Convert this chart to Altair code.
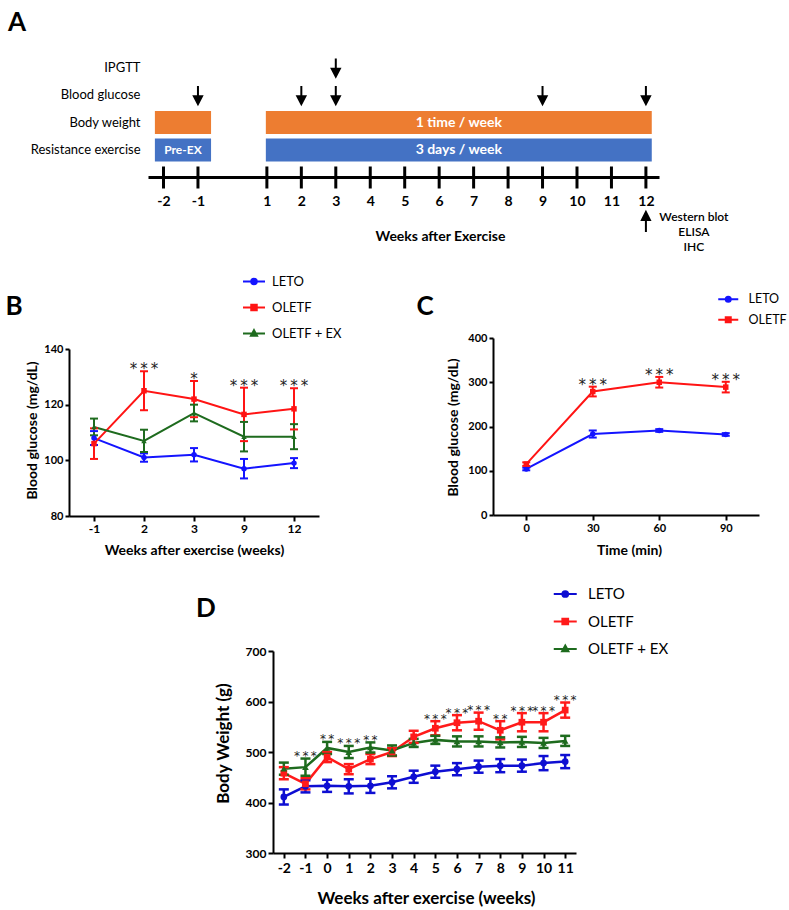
import altair as alt
import pandas as pd

FONT = "Lato"
STAR_FONT = "DejaVu Sans"

# ---------------- Panel A (study design) ----------------
A_rows = ["IPGTT", "Blood glucose", "Body weight", "Resistance exercise", "timeline"]
A_row_labels = ["IPGTT", "Blood glucose", "Body weight", "Resistance exercise"]
A_weeks = [-2, -1, 1, 2, 3, 4, 5, 6, 7, 8, 9, 10, 11, 12]
A_bar_row = ["Body weight", "Body weight", "Resistance exercise", "Resistance exercise"]
A_bar_start = [-2.25, 0.97, -2.25, 0.97]
A_bar_end = [-0.62, 12.17, -0.62, 12.17]
A_bar_text = ["", "1 time  / week", "Pre-EX", "3 days / week"]
A_arrow_row = ["IPGTT", "Blood glucose", "Blood glucose", "Blood glucose", "Blood glucose", "Blood glucose"]
A_arrow_week = [3, -1, 2, 3, 9, 12]
A_sample_week = [12]
A_sample_text = ["Western blot\nELISA\nIHC"]

# ---------------- Panel B (blood glucose) ----------------
B_groups = ["LETO", "OLETF", "OLETF + EX"]
B_weeks = [-1, 2, 3, 9, 12]
B_leto = [108, 101, 102, 97, 99]
B_leto_sem = [2.5, 1.5, 2.4, 3.5, 1.8]
B_oletf = [106, 125, 122, 116.5, 118.5]
B_oletf_sem = [5.5, 7, 6.5, 9.6, 7.4]
B_ex = [112, 107, 117, 108.5, 108.5]
B_ex_sem = [3, 4, 3, 5.3, 4.5]
B_stars = ["", "***", "*", "***", "***"]

# ---------------- Panel C (IPGTT) ----------------
C_groups = ["LETO", "OLETF"]
C_time = [0, 30, 60, 90]
C_leto = [104, 183, 191, 182]
C_leto_sem = [3, 8, 3, 3]
C_oletf = [115, 279, 300, 289]
C_oletf_sem = [4, 11, 12, 12]
C_stars = ["", "***", "***", "***"]

# ---------------- Panel D (body weight) ----------------
D_groups = ["LETO", "OLETF", "OLETF + EX"]
D_weeks = [-2, -1, 0, 1, 2, 3, 4, 5, 6, 7, 8, 9, 10, 11]
D_leto = [411, 432, 433, 432, 433, 440, 451, 461, 466, 471, 473, 473, 478, 481]
D_leto_sem = [15, 12, 12, 14, 14, 12, 12, 12, 12, 12, 13, 12, 14, 13]
D_oletf = [458, 437, 490, 466, 486, 500, 530, 547, 558, 561, 543, 559, 559, 583]
D_oletf_sem = [12, 11, 10, 10, 10, 8, 12, 14, 15, 17, 18, 18, 18, 15]
D_ex = [467, 470, 508, 500, 509, 503, 518, 524, 521, 521, 519, 520, 518, 522]
D_ex_sem = [12, 17, 12, 12, 10, 10, 8, 8, 10, 10, 10, 10, 10, 10]
D_stars = ["", "***", "**", "***", "**", "", "", "***", "***", "***", "**", "***", "***", "***"]

# legend symbols: line segment + marker (custom paths)
SYM_CIRCLE = "M-2,0H2M0.5,0A0.5,0.5,0,1,1,-0.5,0A0.5,0.5,0,1,1,0.5,0Z"
SYM_SQUARE = "M-2,0H2M-0.5,-0.5H0.5V0.5H-0.5Z"
SYM_TRI = "M-2,0H2M0,-0.6L0.55,0.4H-0.55Z"
ARROW_DOWN = "M0,-1V0.35M-0.45,0.15L0,1L0.45,0.15Z"
ARROW_UP = "M0,4.1V5.45M-0.4,4.25L0,3.45L0.4,4.25Z"
HYPHEN_LABEL = "'' + datum.value"


def long_df(xs, groups, means, sems):
    recs = []
    for g, ms, ss in zip(groups, means, sems):
        for xv, m, s in zip(xs, ms, ss):
            recs.append({"x": xv, "Group": g, "mean": m, "lo": m - s, "hi": m + s})
    return pd.DataFrame(recs)


def star_df(xs, stars, df):
    top = df.groupby("x")["hi"].max()
    return pd.DataFrame({"x": xs, "star": ["\u2009".join(s) for s in stars],
                         "top": [float(top[x]) for x in xs]})


def panel(df, sdf, groups, colors, shapes, paths, xtype, xscale, xaxis, yscale, yaxis,
          legend, lw, msize, cap, star_size, star_dy):
    # colour scale domain comes from the data (sorted = legend order)
    col = alt.Color("Group:N", scale=alt.Scale(range=colors), legend=None)

    def X():
        return alt.X(f"x:{xtype}", scale=xscale, axis=xaxis)

    def Y(f):
        return alt.Y(f"{f}:Q", scale=yscale, axis=yaxis)

    base = alt.Chart(df)
    layers = [
        base.mark_line(strokeWidth=lw).encode(x=X(), y=Y("mean"), color=col),
        base.mark_rule(strokeWidth=lw).encode(x=X(), y=Y("lo"), y2="hi:Q", color=col),
        base.transform_fold(["lo", "hi"], as_=["k", "v"]).mark_tick(
            orient="horizontal", size=cap, thickness=lw, opacity=1).encode(
            x=X(), y=Y("v"), color=col),
    ]
    for g, s in zip(groups, shapes):
        layers.append(base.transform_filter(alt.datum.Group == g).mark_point(
            shape=s, filled=True, size=msize, opacity=1).encode(x=X(), y=Y("mean"), color=col))
    layers.append(alt.Chart(sdf).mark_text(
        font=STAR_FONT, fontSize=star_size, baseline="alphabetic", dy=star_dy, color="#222222").encode(
        x=X(), y=Y("top"), text="star:N"))
    legdf = pd.DataFrame({"Group": groups})
    layers.append(alt.Chart(legdf).transform_filter("false").mark_point(opacity=1, strokeWidth=2).encode(
        shape=alt.Shape("Group:N", scale=alt.Scale(domain=groups, range=paths), legend=legend),
        fill=alt.Fill("Group:N", scale=alt.Scale(domain=groups, range=colors), legend=legend),
        stroke=alt.Stroke("Group:N", scale=alt.Scale(domain=groups, range=colors), legend=legend)))
    return alt.layer(*layers)


def leg(x, y, size, fs, off, rowpad):
    return alt.Legend(orient="none", legendX=x, legendY=y, title=None, labelFont=FONT,
                      labelFontSize=fs, labelColor="black", symbolSize=size,
                      symbolStrokeWidth=2, labelOffset=off, rowPadding=rowpad, padding=0)


# ---------------- build A ----------------
xA = alt.Scale(domain=[-2.45, 12.38], range=[148, 659], nice=False, zero=False)
yA = alt.Scale(type="band", domain=A_rows, range=[53.75, 191.25], paddingInner=0.164, paddingOuter=0.082)
axisA_y = alt.Axis(orient="left", offset=-145, values=A_row_labels, domain=False, ticks=False,
                   tickSize=0, labelPadding=5, labelFontSize=13, labelFontWeight="normal",
                   title=None, grid=False)
axisA_x = alt.Axis(orient="bottom", offset=-733, values=A_weeks, domainWidth=3, ticks=False,
                   tickSize=0, labelPadding=17, labelFontSize=14, labelFontWeight="bold",
                   labelOverlap=False, labelFlush=False, grid=False, labelExpr=HYPHEN_LABEL,
                   title="Weeks after Exercise", titleFontSize=14, titleFontWeight="bold",
                   titleX=440, titleY=59, titleBaseline="middle")


def XA(f):
    return alt.X(f"{f}:Q", scale=xA, axis=axisA_x)


YA = alt.Y("row:N", scale=yA, axis=axisA_y)

bars_df = pd.DataFrame({"row": A_bar_row, "start": A_bar_start, "end": A_bar_end, "label": A_bar_text})
A_bars = alt.Chart(bars_df).mark_bar(opacity=1).encode(
    x=XA("start"), x2="end:Q", y=YA,
    color=alt.Color("row:N", scale=alt.Scale(domain=["Body weight", "Resistance exercise"],
                                             range=["#ED7D31", "#4472C4"]), legend=None))
A_bartext_big = alt.Chart(bars_df).transform_filter(
    "datum.label != '' && datum.label != 'Pre-EX'").transform_calculate(
    mid="(datum.start + datum.end) / 2").mark_text(
    font=FONT, fontSize=14, fontWeight="bold", color="white").encode(
    x=XA("mid"), y=YA, text="label:N")
A_bartext_small = alt.Chart(bars_df).transform_filter("datum.label == 'Pre-EX'").transform_calculate(
    mid="(datum.start + datum.end) / 2").mark_text(
    font=FONT, fontSize=12, fontWeight="bold", color="white").encode(
    x=XA("mid"), y=YA, text="label:N")
ticks_df = pd.DataFrame({"week": A_weeks, "row": ["timeline"] * len(A_weeks)})
A_ticks = alt.Chart(ticks_df).mark_tick(orient="vertical", size=22, thickness=3, color="black", opacity=1).encode(
    x=XA("week"), y=YA)
arrows_df = pd.DataFrame({"row": A_arrow_row, "week": A_arrow_week})
A_arrows = alt.Chart(arrows_df).mark_point(shape=ARROW_DOWN, size=324, filled=True, color="black",
                                           stroke="black", strokeWidth=2, opacity=1).encode(
    x=XA("week"), y=YA)
sample_df = pd.DataFrame({"week": A_sample_week, "row": ["timeline"], "label": A_sample_text})
A_up = alt.Chart(sample_df).mark_point(shape=ARROW_UP, size=400, filled=True, color="black",
                                       stroke="black", strokeWidth=2, opacity=1).encode(
    x=XA("week"), y=YA)
A_sample = alt.Chart(sample_df).mark_text(font=FONT, fontSize=12, fontWeight=600, align="center",
                                          baseline="top", dx=48, dy=34, lineBreak="\n",
                                          lineHeight=15, color="black").encode(
    x=XA("week"), y=YA, text="label:N")
panelA = alt.layer(A_bars, A_bartext_big, A_bartext_small, A_ticks, A_arrows, A_up, A_sample)

# ---------------- build B ----------------
dfB = long_df(B_weeks, B_groups, [B_leto, B_oletf, B_ex], [B_leto_sem, B_oletf_sem, B_ex_sem])
sB = star_df(B_weeks, B_stars, dfB)
xB = alt.Scale(type="point", domain=B_weeks, range=[69, 319], padding=0.5)
yB = alt.Scale(domain=[80, 140], range=[516, 349], nice=False, zero=False)
axisB_x = alt.Axis(orient="bottom", offset=-394, labelAngle=0, labelFontSize=12, labelFontWeight="bold",
                   labelPadding=2, tickSize=5, tickWidth=2, domainWidth=2, grid=False, labelOverlap=False,
                   labelExpr=HYPHEN_LABEL,
                   title="Weeks after exercise (weeks)", titleFontSize=14, titleFontWeight="bold",
                   titleX=194, titleY=34, titleBaseline="middle")
axisB_y = alt.Axis(orient="left", offset=-69, values=[80, 100, 120, 140], labelFontSize=11,
                   labelFontWeight="bold", labelPadding=2, tickSize=4, tickWidth=2, domainWidth=2,
                   grid=False, title="Blood glucose (mg/dL)", titleFontSize=14, titleFontWeight="bold",
                   titleX=-37, titleY=430, titleAngle=270, titleAlign="center", titleBaseline="middle")
colB = ["#1414FF", "#FF1414", "#1E6B1E"]
panelB = panel(dfB, sB, B_groups, colB, ["circle", "square", "triangle-up"],
               [SYM_CIRCLE, SYM_SQUARE, SYM_TRI], "O", xB, axisB_x, yB, axisB_y,
               leg(247.5, 275, 121, 13, 11.5, 11), 2, 30, 8, 15, 3)

# ---------------- build C ----------------
dfC = long_df(C_time, C_groups, [C_leto, C_oletf], [C_leto_sem, C_oletf_sem])
sC = star_df(C_time, C_stars, dfC)
xC = alt.Scale(domain=[-15, 105], range=[493, 759], nice=False, zero=False)
yC = alt.Scale(domain=[0, 400], range=[515, 338], nice=False, zero=False)
axisC_x = alt.Axis(orient="bottom", offset=-395, values=C_time, labelFontSize=11, labelFontWeight="bold",
                   labelPadding=2, tickSize=5, tickWidth=2, domainWidth=2, grid=False, labelOverlap=False,
                   labelFlush=False, title="Time (min)", titleFontSize=14, titleFontWeight="bold",
                   titleX=629, titleY=35, titleBaseline="middle")
axisC_y = alt.Axis(orient="left", offset=-493, values=[0, 100, 200, 300, 400], labelFontSize=11,
                   labelFontWeight="bold", labelPadding=2, tickSize=4, tickWidth=2, domainWidth=2,
                   grid=False, title="Blood glucose (mg/dL)", titleFontSize=14, titleFontWeight="bold",
                   titleX=-40, titleY=427, titleAngle=270, titleAlign="center", titleBaseline="middle")
colC = ["#1414FF", "#FF1414"]
panelC = panel(dfC, sC, C_groups, colC, ["circle", "square"], [SYM_CIRCLE, SYM_SQUARE], "Q",
               xC, axisC_x, yC, axisC_y, leg(722, 293, 100, 12.5, 14, 6.5), 2, 30, 8, 15, 3)

# ---------------- build D ----------------
dfD = long_df(D_weeks, D_groups, [D_leto, D_oletf, D_ex], [D_leto_sem, D_oletf_sem, D_ex_sem])
sD = star_df(D_weeks, D_stars, dfD)
xD = alt.Scale(type="point", domain=D_weeks, range=[273, 576], padding=0.5)
yD = alt.Scale(domain=[300, 700], range=[853, 651], nice=False, zero=False)
axisD_x = alt.Axis(orient="bottom", offset=-57, labelAngle=0, labelFontSize=14, labelFontWeight="bold",
                   labelPadding=3, tickSize=5, tickWidth=2, domainWidth=2, grid=False, labelOverlap=False,
                   labelExpr=HYPHEN_LABEL,
                   title="Weeks after exercise (weeks)", titleFontSize=17, titleFontWeight="bold",
                   titleX=426, titleY=45, titleBaseline="middle")
axisD_y = alt.Axis(orient="left", offset=-273, values=[300, 400, 500, 600, 700], labelFontSize=12,
                   labelFontWeight="bold", labelPadding=2, tickSize=5, tickWidth=2, domainWidth=2,
                   grid=False, title="Body Weight (g)", titleFontSize=17, titleFontWeight="bold",
                   titleX=-50, titleY=743, titleAngle=270, titleAlign="center", titleBaseline="middle")
colD = ["#0E0ED2", "#FF1A1A", "#1E6B1E"]
panelD = panel(dfD, sD, D_groups, colD, ["circle", "square", "triangle-up"],
               [SYM_CIRCLE, SYM_SQUARE, SYM_TRI], "O", xD, axisD_x, yD, axisD_y,
               leg(557.75, 586.5, 132, 15, 15.25, 11.5), 2.5, 45, 10, 12, 1.5)

# ---------------- panel letters ----------------
letters = []
for t, px, py in [("A", 17, 23), ("B", 14, 307), ("C", 425, 307), ("D", 206, 609)]:
    letters.append(alt.Chart(pd.DataFrame({"t": [t]})).mark_text(
        font=FONT, fontSize=26, fontWeight="bold", color="black", align="center", baseline="middle").encode(
        x=alt.value(px), y=alt.value(py), text="t:N"))

chart = alt.layer(panelA, panelB, panelC, panelD, *letters).resolve_scale(
    x="independent", y="independent", color="independent", fill="independent",
    stroke="independent", shape="independent").resolve_axis(
    x="independent", y="independent").resolve_legend(
    color="independent", fill="independent", stroke="independent", shape="independent").properties(
    width=789, height=910, autosize=alt.AutoSizeParams(type="none"), padding=0,
    background="white").configure_axis(
    labelFont=FONT, titleFont=FONT, labelColor="black", titleColor="black",
    domainColor="black", tickColor="black", grid=False).configure_view(stroke=None)

chart.save("out.html", embed_options={"renderer": "svg", "actions": False})
